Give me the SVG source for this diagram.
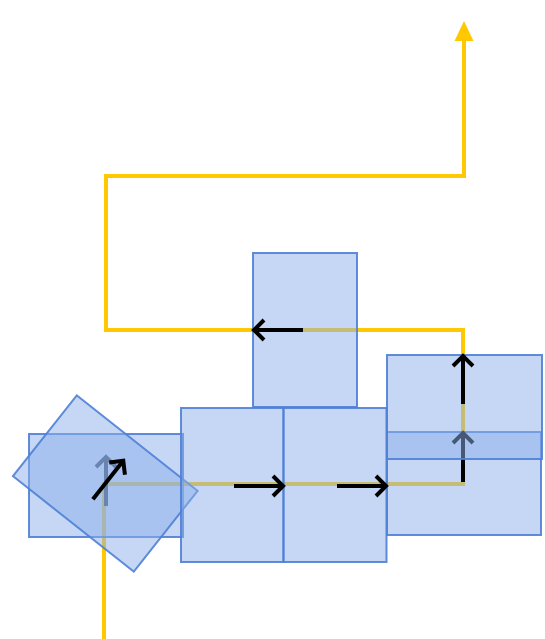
<svg xmlns="http://www.w3.org/2000/svg" width="545" height="639" viewBox="0 0 545 639">
<style>
.box{fill:rgb(140,176,234);fill-opacity:0.5;stroke:#4f80d6;stroke-opacity:0.9;stroke-width:2}
.ylw{fill:none;stroke:#ffc800;stroke-width:4;stroke-linejoin:miter}
.blk{fill:none;stroke:#000;stroke-width:4}
</style>
<defs>
<marker id="open" markerUnits="userSpaceOnUse" viewBox="-14 -14 28 28" markerWidth="28" markerHeight="28" refX="0" refY="0" orient="auto">
<path d="M-10,-10 L0,0 L-10,10" fill="none" stroke="#000" stroke-width="4"/>
</marker>
<marker id="tri" markerUnits="userSpaceOnUse" viewBox="-2 -12 24 24" markerWidth="24" markerHeight="24" refX="0" refY="0" orient="auto">
<path d="M0,-9.5 L20,0 L0,9.5 Z" fill="#ffc800"/>
</marker>
</defs>
<g id="connectors-back">
<path class="ylw" d="M104,639 V484 H463 V330 H106 V176 H464 V41" marker-end="url(#tri)"/>
<path class="blk" d="M106,506 V457" marker-end="url(#open)"/>
</g>
<g id="node-left"><rect class="box" x="29" y="434" width="154" height="103"/></g>
<g id="node-rotated" transform="translate(105.3,483.5) rotate(38.3)"><rect class="box" x="-77" y="-51.5" width="154" height="103"/></g>
<g id="node-mid-left"><rect class="box" x="181" y="408" width="102.5" height="154"/></g>
<g id="node-mid-right"><rect class="box" x="283.5" y="408" width="103" height="154"/></g>
<g id="node-top"><rect class="box" x="253" y="253" width="104" height="154"/></g>
<g id="node-right-lower"><rect class="box" x="387" y="432" width="154" height="103"/></g>
<g id="connectors-mid">
<path class="blk" d="M463,482 V433" marker-end="url(#open)"/>
</g>
<g id="node-right-upper"><rect class="box" x="387" y="355" width="155" height="104"/></g>
<g id="connectors">
<g transform="translate(105.3,483.5) rotate(38.3)"><path class="blk" d="M0,20 V-29" marker-end="url(#open)"/></g>
<path class="blk" d="M234,486 H283" marker-end="url(#open)"/>
<path class="blk" d="M337,486 H386" marker-end="url(#open)"/>
<path class="blk" d="M463,404 V356" marker-end="url(#open)"/>
<path class="blk" d="M303,330 H254" marker-end="url(#open)"/>
</g>
</svg>
